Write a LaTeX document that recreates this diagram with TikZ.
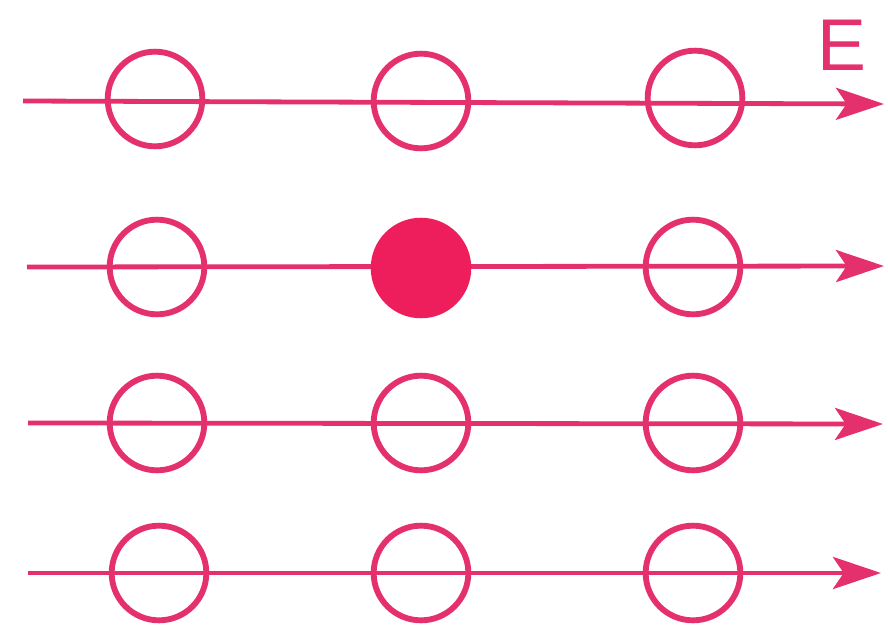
\documentclass[tikz,border=0pt]{standalone}
\usepackage{fontspec}
\setmainfont{Liberation Sans}
\usetikzlibrary{arrows.meta}
\definecolor{ink}{RGB}{228,48,108}
\definecolor{fillink}{RGB}{238,30,92}
\begin{document}
\begin{tikzpicture}[x=0.75pt,y=-0.75pt,
  field/.style={draw=ink,line width=3.6pt,-{Stealth[length=36pt,width=24pt,inset=8pt]}},
  ion/.style={circle,draw=ink,line width=4.4pt,minimum size=71pt,inner sep=0pt},
  hole/.style={ion,fill=fillink,draw=fillink}]
\useasboundingbox (0,0) rectangle (888,635);
% field lines
\coordinate (s1) at (23,101);  \coordinate (e1) at (884,104);
\coordinate (s2) at (27,267);  \coordinate (e2) at (884,266);
\coordinate (s3) at (28,423);  \coordinate (e3) at (883,424);
\coordinate (s4) at (28,573);  \coordinate (e4) at (881,573);
\draw[field] (s1) -- (e1);
\draw[field] (s2) -- (e2);
\draw[field] (s3) -- (e3);
\draw[field] (s4) -- (e4);
% ions
\node[ion] (a1) at (155,99) {};
\node[ion] (b1) at (421,101) {};
\node[ion] (c1) at (695,98) {};
\node[ion] (a2) at (157,267) {};
\node[hole] (b2) at (421,268) {};
\node[ion] (c2) at (693,267) {};
\node[ion] (a3) at (157,423) {};
\node[ion] (b3) at (421,423) {};
\node[ion] (c3) at (693,423) {};
\node[ion] (a4) at (159,573) {};
\node[ion] (b4) at (421,573) {};
\node[ion] (c4) at (693,573) {};
% label
\node[text=ink,font=\fontsize{55}{60}\selectfont,inner sep=0pt] (E) at (842,45) {E};
\end{tikzpicture}
\end{document}
